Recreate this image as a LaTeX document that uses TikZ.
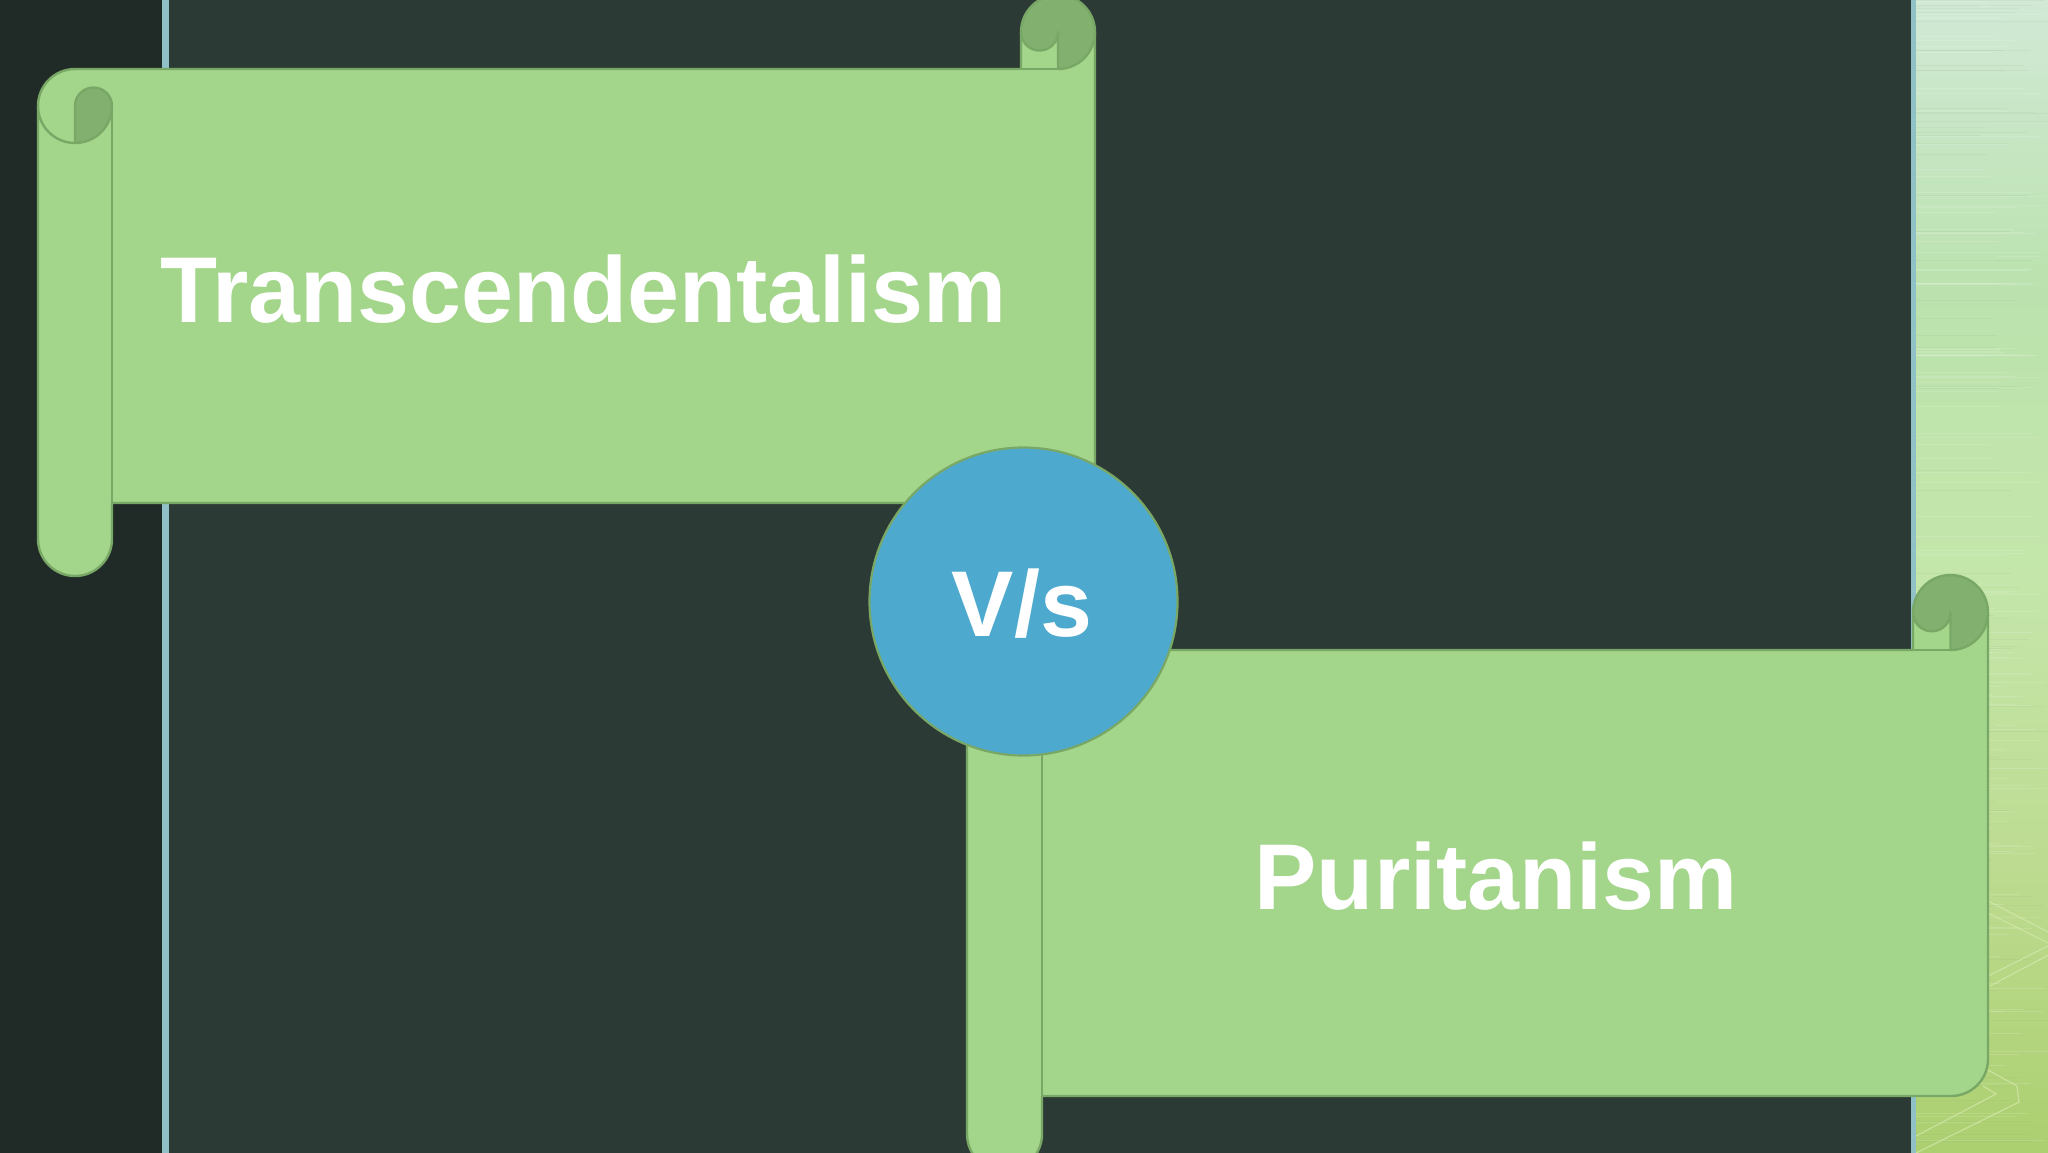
\documentclass[tikz,border=0pt]{standalone}
\usepackage{fontspec}
\setmainfont{Liberation Sans}
\definecolor{stripdark}{HTML}{202B27}
\definecolor{maindark}{HTML}{2C3A35}
\definecolor{tealline}{HTML}{8FC1C6}
\definecolor{scrollfill}{HTML}{A3D68B}
\definecolor{curlfill}{HTML}{82B16F}
\definecolor{scrollline}{HTML}{79A766}
\definecolor{discfill}{HTML}{4EA9CF}
\definecolor{tracery}{HTML}{D6E9AE}
\definecolor{pa}{HTML}{ABCF6F}
\definecolor{pb}{HTML}{BDDB90}
\definecolor{pc}{HTML}{C4E6AA}
\definecolor{pd}{HTML}{BBE2AE}
\definecolor{pe}{HTML}{D1E9D6}
\definecolor{streakdark}{HTML}{7FA870}
\pgfdeclareverticalshading{panelshade}{100bp}{
  color(0bp)=(pa);
  color(25bp)=(pa);
  color(37.5bp)=(pb);
  color(50bp)=(pc);
  color(62.5bp)=(pd);
  color(75bp)=(pe);
  color(100bp)=(pe)}
\tikzset{
  scroll/.style={fill=scrollfill,draw=scrollline,line width=1.2pt,line join=round},
  curl/.style={fill=curlfill,draw=scrollline,line width=1.2pt,line join=round},
  edgeline/.style={draw=scrollline,line width=1.2pt},
  trace/.style={draw=tracery,line width=0.55pt,opacity=.75},
  labeltext/.style={text=white,anchor=base,inner sep=0pt,font=\bfseries\fontsize{46.7pt}{47pt}\selectfont},
}
\begin{document}
\begin{tikzpicture}[x=0.5pt,y=-0.5pt]
\useasboundingbox (0,0) rectangle (2048,1152);
% background
\fill[maindark] (-6,-6) rectangle (2056,1160);
\fill[stripdark] (-6,-6) rectangle (162,1160);
\fill[tealline] (162,-6) rectangle (169,1160);
\begin{scope}
  \clip (1916,-6) rectangle (2056,1160);
  \shade[shading=panelshade] (1916,0) rectangle (2056,1160);
  \pgfmathsetseed{11}
  \foreach \i in {1,...,130}{
    \pgfmathsetmacro{\ya}{rnd*1152}
    \pgfmathsetmacro{\xa}{2048-rnd*70}
    \draw[white,opacity=.14,line width=0.4pt] (1916,\ya) -- (\xa,\ya);
  }
  \foreach \i in {1,...,60}{
    \pgfmathsetmacro{\ya}{rnd*1152}
    \pgfmathsetmacro{\xa}{2048-rnd*70}
    \draw[streakdark,opacity=.10,line width=0.4pt] (1916,\ya) -- (\xa,\ya);
  }
  \draw[trace] (1988,901) -- (2056,936);
  \draw[trace] (1988,913) -- (2056,947);
  \draw[trace] (2056,942) -- (1988,976);
  \draw[trace] (2056,951) -- (1988,987);
  \draw[trace] (1986,1069) -- (2017,1086) -- (2019,1102) -- (1910,1156);
  \draw[trace] (1983,1086) -- (1996,1094) -- (1916,1136);
\end{scope}
\fill[tealline] (1911,-6) rectangle (1916,1160);
% first scroll
\path[scroll] (38,106) arc[start angle=180,end angle=90,radius=18.5pt] -- (1021,69) -- (1021,32)
  -- (1095,32) -- (1095,503) -- (112,503) -- (112,539)
  arc[start angle=0,end angle=-180,radius=18.5pt] -- cycle;
\path[curl] (75,143) -- (75,106) arc[start angle=180,end angle=0,radius=9.25pt]
  arc[start angle=0,end angle=-90,radius=18.5pt] -- cycle;
\path[edgeline] (38,106) arc[start angle=180,end angle=270,radius=18.5pt];
\path[edgeline] (112,106) -- (112,503);
\path[curl] (1058,69) arc[start angle=270,end angle=360,radius=18.5pt]
  arc[start angle=0,end angle=180,radius=18.5pt]
  arc[start angle=180,end angle=360,radius=9.25pt] -- cycle;
\path[edgeline] (1021,69) -- (1058,69);
% second scroll
\path[scroll] (967,687) arc[start angle=180,end angle=90,radius=18.5pt] -- (1913,650) -- (1913,613)
  -- (1988,613) -- (1988,1059) arc[start angle=0,end angle=-90,radius=18.5pt]
  -- (1042,1096) -- (1042,1134) arc[start angle=0,end angle=-180,radius=18.75pt] -- cycle;
\path[edgeline] (1042,724) -- (1042,1096);
\path[curl] (1950.5,650) arc[start angle=270,end angle=360,radius=18.75pt]
  arc[start angle=0,end angle=180,radius=18.75pt]
  arc[start angle=180,end angle=360,radius=9.375pt] -- cycle;
\path[edgeline] (1913,650) -- (1950.5,650);
% disc
\node[circle,minimum size=154pt,inner sep=0pt,fill=discfill,draw=scrollline,line width=1.1pt] (disc) at (1023.5,601.5) {};
% labels
\node[labeltext] (transc) at (583.5,322) {Transcendentalism};
\node[labeltext] (purit) at (1496,909) {Puritanism};
\node[labeltext] (vs) at (1022,636) {V/s};
\end{tikzpicture}
\end{document}
